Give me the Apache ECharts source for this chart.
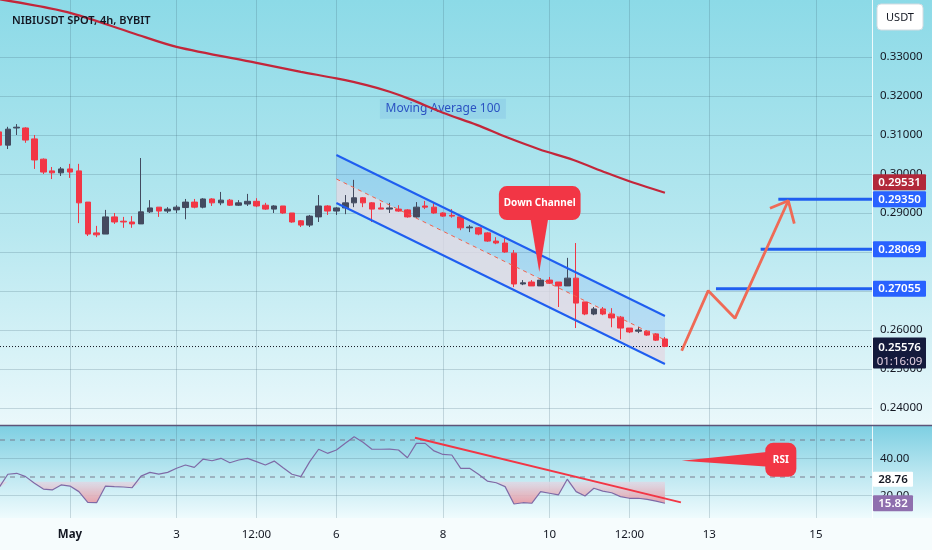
<!DOCTYPE html>
<html>
<head>
<meta charset="utf-8">
<script src="https://cdn.jsdelivr.net/npm/echarts@6/dist/echarts.min.js"></script>
<style>
html,body{margin:0;padding:0;background:#fff;}
#wrap{position:relative;width:932px;height:550px;overflow:hidden;}
.bg{position:absolute;left:0;width:932px;}
#bg1{top:0;height:425px;background:linear-gradient(to bottom,#8cdae7 0%,#b8e8f0 55%,#eaf8fb 100%);}
#bg2{top:425px;height:93px;background:linear-gradient(to bottom,#7ccfe2 0%,#b9e6f0 50%,#effbfd 100%);}
#bg3{top:518px;height:32px;background:#f6fcfd;}
#chart{position:absolute;left:0;top:0;width:932px;height:550px;}
</style>
</head>
<body>
<div id="wrap">
  <div class="bg" id="bg1"></div>
  <div class="bg" id="bg2"></div>
  <div class="bg" id="bg3"></div>
  <div id="chart"></div>
</div>
<script>
// ---------------- DATA ----------------
// x unit = 4h candle index, 0 = May 1 00:00
const candleStart = -8;
// [open, close, low, high]
const candles = [
  [0.3108,0.3074,0.3070,0.3112],[0.3074,0.3115,0.3064,0.3121],[0.3118,0.3120,0.3100,0.3128],[0.3118,0.3087,0.3080,0.3120],
  [0.3090,0.3036,0.3013,0.3100],[0.3038,0.3005,0.3000,0.3040],[0.3008,0.3003,0.2987,0.3018],[0.3003,0.3013,0.2995,0.3018],
  [0.3013,0.3005,0.2990,0.3026],[0.3008,0.2926,0.2874,0.3026],[0.2928,0.2846,0.2841,0.2928],[0.2849,0.2844,0.2838,0.2867],
  [0.2846,0.2890,0.2846,0.2908],[0.2890,0.2877,0.2872,0.2900],[0.2879,0.2877,0.2862,0.2890],[0.2877,0.2872,0.2862,0.2892],
  [0.2872,0.2903,0.2872,0.3041],[0.2903,0.2913,0.2900,0.2933],[0.2915,0.2905,0.2890,0.2915],[0.2905,0.2910,0.2900,0.2915],
  [0.2908,0.2915,0.2900,0.2920],[0.2914,0.2928,0.2884,0.2936],[0.2928,0.2915,0.2912,0.2936],[0.2915,0.2936,0.2912,0.2938],
  [0.2936,0.2926,0.2918,0.2938],[0.2926,0.2933,0.2920,0.2954],[0.2933,0.2920,0.2918,0.2936],[0.2920,0.2926,0.2918,0.2933],
  [0.2923,0.2930,0.2918,0.2949],[0.2930,0.2918,0.2915,0.2938],[0.2920,0.2910,0.2908,0.2926],[0.2910,0.2918,0.2900,0.2920],
  [0.2918,0.2900,0.2898,0.2918],[0.2900,0.2877,0.2875,0.2900],[0.2880,0.2869,0.2864,0.2882],[0.2869,0.2892,0.2864,0.2895],
  [0.2890,0.2918,0.2877,0.2946],[0.2918,0.2905,0.2895,0.2920],[0.2905,0.2913,0.2895,0.2915],[0.2913,0.2926,0.2897,0.2946],
  [0.2926,0.2939,0.2915,0.2985],[0.2939,0.2926,0.2915,0.2941],[0.2926,0.2910,0.2877,0.2928],[0.2913,0.2910,0.2910,0.2926],
  [0.2910,0.2913,0.2900,0.2926],[0.2910,0.2905,0.2903,0.2920],[0.2908,0.2890,0.2888,0.2910],[0.2890,0.2915,0.2888,0.2928],
  [0.2918,0.2915,0.2910,0.2931],[0.2915,0.2900,0.2898,0.2928],[0.2900,0.2892,0.2890,0.2902],[0.2894,0.2892,0.2888,0.2910],
  [0.2890,0.2862,0.2856,0.2892],[0.2862,0.2864,0.2851,0.2869],[0.2862,0.2846,0.2843,0.2864],[0.2849,0.2828,0.2826,0.2851],
  [0.2828,0.2823,0.2820,0.2838],[0.2823,0.2800,0.2798,0.2838],[0.2797,0.2718,0.2710,0.2805],[0.2718,0.2721,0.2715,0.2728],
  [0.2723,0.2713,0.2713,0.2728],[0.2713,0.2728,0.2713,0.2733],[0.2728,0.2720,0.2718,0.2736],[0.2723,0.2713,0.2659,0.2723],
  [0.2713,0.2733,0.2713,0.2785],[0.2733,0.2669,0.2605,0.2823],[0.2672,0.2641,0.2638,0.2672],[0.2641,0.2654,0.2638,0.2659],
  [0.2654,0.2641,0.2638,0.2659],[0.2641,0.2631,0.2607,0.2656],[0.2633,0.2605,0.2576,0.2636],[0.2605,0.2595,0.2592,0.2605],
  [0.2597,0.2600,0.2592,0.2608],[0.2597,0.2587,0.2585,0.2600],[0.2590,0.2574,0.2572,0.2592],[0.2577,0.2558,0.2556,0.2582]
];
const rsiValues = [
  24.2,31.5,32.0,30.2,26.6,23.5,23.0,25.7,
  25.1,22.1,16.3,16.1,25.1,24.8,24.6,24.2,30.5,32.5,
  31.6,32.5,34.7,36.5,35.2,39.7,38.8,40.1,37.7,39.2,
  40.1,38.3,36.5,38.6,35.0,31.5,30.2,38.3,45.0,42.8,
  44.6,48.2,51.8,48.8,45.0,45.0,45.1,44.6,40.4,48.2,
  48.2,44.1,42.2,41.9,34.7,34.7,31.5,27.8,26.9,24.8,
  15.4,16.1,15.8,22.1,21.2,20.3,28.8,22.1,19.7,23.9,
  22.4,21.5,19.4,18.5,18.5,17.9,17.0,15.8
];
const maPoints = [[-7.9,0.3448],[-0.3,0.3415],[7.1,0.3361],[12,0.3326],[21,0.3285],[26,0.3262],[30,0.3245],
  [33.4,0.3228],[36,0.3211],[38.3,0.3192],[42,0.3157],[45.8,0.3126],[49.2,0.3094],[52.9,0.3063],
  [56.7,0.3036],[60.4,0.3003],[63.4,0.2978],[67,0.2952]];
const channelUpper = [[30,0.30487],[67,0.26359]];
const channelMid   = [[30,0.29872],[67,0.25744]];
const channelLower = [[30,0.29256],[67,0.25128]];
const targetLevels = [0.29350, 0.28069, 0.27055];
const targetStarts = [79.77, 77.78, 72.75];
const arrowPath = [[68.89,0.25469],[71.88,0.27008],[74.89,0.26300],[80.89,0.29315]];
const arrowHead = [[78.83,0.29120],[80.89,0.29315],[81.57,0.28730]];
const rsiTrend = [[38.85,51.2],[68.8,16.3]];
const rsiBands = [50, 30];
const rsiFillLevel = 27.5;
const maLastValue = 0.29531;
const lastPrice = 0.25576;
const countdown = '01:16:09';
const rsiLast = 15.82;
const rsiMaLast = 28.76;
const xTickVals = [0,12,21,30,42,54,63,72,84];
const xTickLabels = ['May','3','12:00','6','8','10','12:00','13','15'];
const priceTicks = [0.24,0.25,0.26,0.27,0.28,0.29,0.30,0.31,0.32,0.33];
const rsiTicks = [20,40];
const titleText = 'NIBIUSDT SPOT, 4h, BYBIT';
const maLabel = {text:'Moving Average 100', at:[42,0.3167]};
const downCallout = {text:'Down Channel', box:[[48.3,0.2969],[57.5,0.2882]], base:[51.8,53.9], tip:[52.85,0.2749]};
const rsiCallout = {text:'RSI', box:[[78.3,48.5],[81.8,30.1]], base:[43.7,35.6], tip:[68.9,38.8]};

// ---------------- STYLE ----------------
const X_MIN = -7.883, X_MAX = 90.32;
const Y_MIN = 0.235641, Y_MAX = 0.344615;
const R_MIN = 7.84, R_MAX = 57.57;
const FONT = "'Noto Sans', 'Liberation Sans', sans-serif";
const GRIDC = 'rgba(60,95,115,0.22)';
const TXT = '#131722';
const UP = '#434a5f', DOWN = '#f23645';

const candleData = candles.map((c,k)=>[candleStart+k, c[0], c[1], c[2], c[3]]);
const rsiData = rsiValues.map((r,k)=>[candleStart+k, r]);
const rsiFillPoly = [[candleStart, rsiFillLevel]]
  .concat(rsiValues.map((r,k)=>[candleStart+k, Math.min(r, rsiFillLevel)]))
  .concat([[candleStart+rsiValues.length-1, rsiFillLevel]]);

function polySeries(pts, fill, xi, yi, z){
  return {type:'custom', xAxisIndex:xi, yAxisIndex:yi, z:z, silent:true,
    data:[[pts[0][0], pts[0][1]]],
    renderItem:function(params, api){
      return {type:'polygon', shape:{points:pts.map(p=>api.coord(p))}, style:{fill:fill}};
    }};
}
function lineSeries(data, color, width, type, z, xi, yi){
  return {type:'line', xAxisIndex:xi||0, yAxisIndex:yi||0, data:data, symbol:'none', silent:true, z:z||3,
    lineStyle:{color:color, width:width, type:type||'solid'}, animation:false};
}

const series = [];
// channel fills
series.push(polySeries([channelUpper[0],channelUpper[1],channelMid[1],channelMid[0]], 'rgba(60,130,235,0.17)',0,0,1));
series.push(polySeries([channelMid[0],channelMid[1],channelLower[1],channelLower[0]], 'rgba(226,216,228,0.78)',0,0,1));
// MA 100
series.push(Object.assign(lineSeries(maPoints,'#c3263a',2.2,'solid',3),{smooth:0.3}));
// current price dotted line
series.push(lineSeries([[X_MIN,lastPrice],[X_MAX,lastPrice]],'#131722',1,[1,2],3));
// candles
series.push({type:'candlestick', xAxisIndex:0, yAxisIndex:0, data:candleData, barWidth:6, z:4, silent:true,
  itemStyle:{color:UP, color0:DOWN, borderColor:UP, borderColor0:DOWN, borderWidth:1},
  animation:false});
// channel lines
series.push(lineSeries(channelUpper,'#1f5ef0',2,'solid',5));
series.push(lineSeries(channelLower,'#1f5ef0',2,'solid',5));
series.push(lineSeries(channelMid,'#f0604c',1,[4,4],5));
// targets
targetLevels.forEach((v,k)=>series.push(lineSeries([[targetStarts[k],v],[X_MAX,v]],'#1f5ef0',3,'solid',5)));
// projected arrow
series.push(lineSeries(arrowPath,'#ef6a56',2.8,'solid',6));
series.push(lineSeries(arrowHead,'#ef6a56',2.8,'solid',6));
// RSI
series.push(polySeries(rsiFillPoly, new echarts.graphic.LinearGradient(0,0,0,1,[
  {offset:0,color:'rgba(222,218,230,0.85)'},{offset:1,color:'rgba(232,150,160,0.9)'}]),1,1,1));
rsiBands.forEach(b=>series.push(lineSeries([[X_MIN,b],[X_MAX,b]],'#7a7d8e',1,[5,5],2,1,1)));
series.push(lineSeries(rsiData,'#7e6aa6',1.2,'solid',3,1,1));
series.push(lineSeries(rsiTrend,'#f23645',2,'solid',5,1,1));

const axisLabelStyle = {color:TXT, fontSize:11.5, fontFamily:FONT};
const option = {
  animation:false,
  backgroundColor:'transparent',
  textStyle:{fontFamily:FONT},
  title:{text:titleText, left:7, top:10, textStyle:{fontSize:11, fontWeight:600, color:TXT, fontFamily:FONT}},
  grid:[
    {left:0, right:60, top:0, height:425},
    {left:0, right:60, top:426, height:92}
  ],
  xAxis:[
    {gridIndex:0, type:'value', min:X_MIN, max:X_MAX,
      axisLine:{show:false, onZero:false}, axisTick:{show:false, customValues:xTickVals}, axisLabel:{show:false, customValues:xTickVals},
      splitLine:{show:true, lineStyle:{color:GRIDC, width:1}}},
    {gridIndex:1, type:'value', min:X_MIN, max:X_MAX,
      axisLine:{show:false, onZero:false}, axisTick:{show:false, customValues:xTickVals},
      axisLabel:Object.assign({customValues:xTickVals, margin:11,
        formatter:function(v){const k=xTickVals.indexOf(Math.round(v)); const s=xTickLabels[k]; return s==='May'?'{b|May}':s;},
        rich:{b:{fontWeight:'bold', fontSize:11.5, color:TXT, fontFamily:FONT}}}, axisLabelStyle),
      splitLine:{show:true, lineStyle:{color:GRIDC, width:1}}}
  ],
  yAxis:[
    {gridIndex:0, type:'value', position:'right', min:Y_MIN, max:Y_MAX, scale:true,
      axisLine:{show:true, onZero:false, lineStyle:{color:'rgba(255,255,255,0.85)', width:1}},
      axisTick:{show:false, customValues:priceTicks},
      axisLabel:Object.assign({customValues:priceTicks, margin:8, formatter:v=>v.toFixed(5)}, axisLabelStyle),
      splitLine:{show:true, lineStyle:{color:GRIDC, width:1}}},
    {gridIndex:1, type:'value', position:'right', min:R_MIN, max:R_MAX,
      axisLine:{show:true, onZero:false, lineStyle:{color:'rgba(255,255,255,0.85)', width:1}},
      axisTick:{show:false, customValues:rsiTicks},
      axisLabel:Object.assign({customValues:rsiTicks, margin:8, formatter:v=>v.toFixed(2)}, axisLabelStyle),
      splitLine:{show:true, lineStyle:{color:GRIDC, width:1}}}
  ],
  series:series
};

const chart = echarts.init(document.getElementById('chart'));
chart.setOption(option);

// ---------------- annotations positioned through the chart's scales ----------------
const P = pt => chart.convertToPixel({gridIndex:0}, pt);
const R = pt => chart.convertToPixel({gridIndex:1}, pt);
const AX = 873, TW = 53;
const g = [];
function tag(yc, text, bg, fg, h, w){
  h = h || 16; w = w || TW;
  g.push({type:'rect', z:50, shape:{x:AX, y:yc-h/2, width:w, height:h, r:1}, style:{fill:bg}});
  g.push({type:'text', z:51, style:{text:text, x:AX+w/2, y:yc, align:'center', verticalAlign:'middle',
    fill:fg, font:'600 11.5px ' + FONT}});
}
// separator between panes
g.push({type:'line', z:40, shape:{x1:0, y1:425.5, x2:932, y2:425.5}, style:{stroke:'#5d5479', lineWidth:1.5}});
// USDT box
g.push({type:'rect', z:50, shape:{x:877, y:4, width:46, height:26, r:4}, style:{fill:'#ffffff', stroke:'#d3dbe0', lineWidth:1}});
g.push({type:'text', z:51, style:{text:'USDT', x:900, y:17.5, align:'center', verticalAlign:'middle', fill:TXT, font:'11px ' + FONT}});
// price tags
const targetY = targetLevels.map(v=>P([0,v])[1]);
let maY = P([0,maLastValue])[1];
maY = Math.min(maY, targetY[0] - 17);
tag(maY, maLastValue.toFixed(5), '#b2283a', '#ffffff');
targetLevels.forEach((v,k)=>tag(targetY[k], v.toFixed(5), '#2962ff', '#ffffff'));
const lpY = P([0,lastPrice])[1];
g.push({type:'rect', z:50, shape:{x:AX, y:lpY-9, width:TW, height:31, r:1}, style:{fill:'#141a3c'}});
g.push({type:'text', z:51, style:{text:lastPrice.toFixed(5), x:AX+TW/2, y:lpY+1, align:'center', verticalAlign:'middle', fill:'#ffffff', font:'600 11.5px ' + FONT}});
g.push({type:'text', z:51, style:{text:countdown, x:AX+TW/2, y:lpY+15, align:'center', verticalAlign:'middle', fill:'#e3cfe0', font:'11.5px ' + FONT}});
// RSI tags
const rsiMaY = R([0,rsiMaLast])[1], rsiY = R([0,rsiLast])[1];
tag(rsiMaY, rsiMaLast.toFixed(2), '#ffffff', TXT, 15, 40);
tag(rsiY, rsiLast.toFixed(2), '#8f6fae', '#ffffff', 16, 40);
// MA label
const mp = P(maLabel.at);
g.push({type:'rect', z:1, shape:{x:mp[0]-63, y:mp[1]-10, width:126, height:20}, style:{fill:'rgba(70,130,220,0.13)'}});
g.push({type:'text', z:2, style:{text:maLabel.text, x:mp[0], y:mp[1], align:'center', verticalAlign:'middle', fill:'#2b52c2', font:'12px ' + FONT}});
// Down Channel callout
(function(){
  const a = P(downCallout.box[0]), b = P(downCallout.box[1]);
  const t = P(downCallout.tip), l = P([downCallout.base[0], downCallout.box[1][1]]), r = P([downCallout.base[1], downCallout.box[1][1]]);
  g.push({type:'polygon', z:60, shape:{points:[[l[0],b[1]-4],[r[0],b[1]-4],t]}, style:{fill:'#f23645'}});
  g.push({type:'rect', z:60, shape:{x:a[0], y:a[1], width:b[0]-a[0], height:b[1]-a[1], r:8}, style:{fill:'#f23645'}});
  g.push({type:'text', z:61, style:{text:downCallout.text, x:(a[0]+b[0])/2, y:(a[1]+b[1])/2, align:'center', verticalAlign:'middle', fill:'#ffffff', font:'bold 10px ' + FONT}});
})();
// RSI callout
(function(){
  const a = R(rsiCallout.box[0]), b = R(rsiCallout.box[1]);
  const t = R(rsiCallout.tip), u = R([rsiCallout.box[0][0], rsiCallout.base[0]]), d = R([rsiCallout.box[0][0], rsiCallout.base[1]]);
  g.push({type:'polygon', z:60, shape:{points:[[a[0]+4,u[1]],[a[0]+4,d[1]],t]}, style:{fill:'#f23645'}});
  g.push({type:'rect', z:60, shape:{x:a[0], y:a[1], width:b[0]-a[0], height:b[1]-a[1], r:8}, style:{fill:'#f23645'}});
  g.push({type:'text', z:61, style:{text:rsiCallout.text, x:(a[0]+b[0])/2, y:(a[1]+b[1])/2, align:'center', verticalAlign:'middle', fill:'#ffffff', font:'bold 10px ' + FONT}});
})();
chart.setOption({graphic:{elements:g}});
</script>
</body>
</html>
